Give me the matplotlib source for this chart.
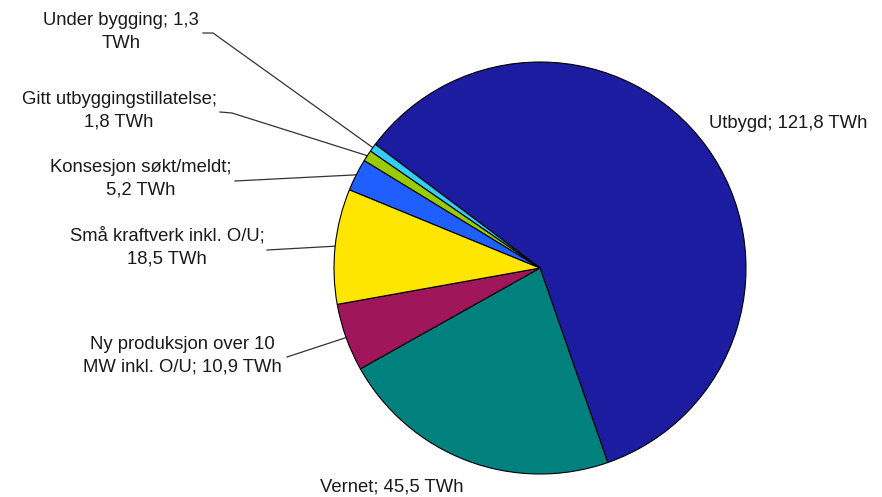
import matplotlib
matplotlib.use("Agg")
import matplotlib.pyplot as plt
import numpy as np

categories = ["Utbygd", "Vernet", "Ny produksjon over 10\nMW inkl. O/U", "Små kraftverk inkl. O/U",
              "Konsesjon søkt/meldt", "Gitt utbyggingstillatelse", "Under bygging"]
values = [121.8, 45.5, 10.9, 18.5, 5.2, 1.8, 1.3]
label_texts = ["Utbygd; 121,8 TWh", "Vernet; 45,5 TWh", "Ny produksjon over 10\nMW inkl. O/U; 10,9 TWh",
               "Små kraftverk inkl. O/U;\n18,5 TWh", "Konsesjon søkt/meldt;\n5,2 TWh",
               "Gitt utbyggingstillatelse;\n1,8 TWh", "Under bygging; 1,3\nTWh"]
colors = ["#1c1ca0", "#00817e", "#a0165a", "#ffe600", "#1f5fff", "#99cc00", "#33ccff"]

W, H = 882, 497
fig = plt.figure(figsize=(W / 100, H / 100), dpi=100)
ax = fig.add_axes([0, 0, 1, 1])

cx, cy, R = 540, H - 268, 206
start = 143.1
wedges, _ = ax.pie(values, colors=colors, startangle=start, counterclock=False,
                   center=(cx, cy), radius=R, frame=True,
                   wedgeprops=dict(edgecolor="black", linewidth=0.8))
ax.set_xlim(0, W)
ax.set_ylim(0, H)
ax.set_aspect("equal")
ax.axis("off")

# label layout (pixel coords from top), leader end points
label_pos = [(788, 123), (392, 487), (182, 356), (167, 247), (141, 179), (119, 111), (121, 32)]
leader_end = [None, None, [(287, 357)], [(267, 250)], [(235, 181)], [(220, 112), (232, 113)], [(203, 33), (213, 33)]]

fs = 13.3
for i, w in enumerate(wedges):
    lx, ly = label_pos[i]
    ax.text(lx, H - ly, label_texts[i], ha="center", va="center", multialignment="center",
            fontsize=fs, family="Liberation Sans", color="#1a1a1a", linespacing=1.45)
    if leader_end[i] is not None:
        mid = np.deg2rad((w.theta1 + w.theta2) / 2)
        ex, ey = cx + R * np.cos(mid), cy + R * np.sin(mid)
        pts = [(x, H - y) for x, y in leader_end[i]] + [(ex, ey)]
        xs, ys = zip(*pts)
        ax.plot(xs, ys, color="#333333", linewidth=0.9, zorder=0.5)

fig.savefig("out.png", dpi=100)
